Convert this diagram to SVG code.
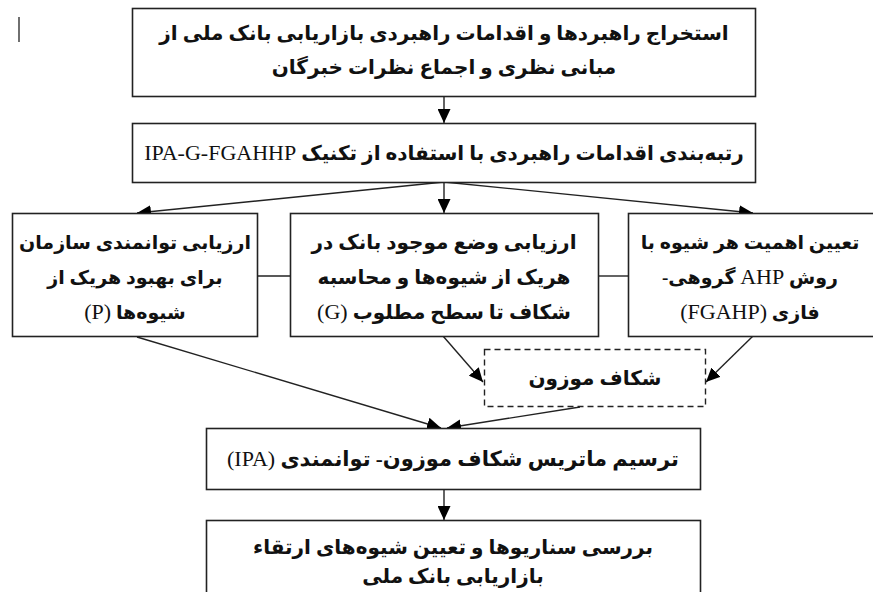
<svg xmlns="http://www.w3.org/2000/svg" width="873" height="592" viewBox="0 0 873 592">
<defs>
<marker id="ah" markerUnits="userSpaceOnUse" markerWidth="15" markerHeight="13" refX="14" refY="6.5" orient="auto">
<path d="M0,0 L14,6.5 L0,13 Z" fill="#000"/>
</marker>
<style>
.box{fill:#fff;stroke:#222;stroke-width:1.6}
.dash{fill:#fff;stroke:#222;stroke-width:1.4;stroke-dasharray:6,4}
.c{stroke:#222;stroke-width:1.4;fill:none}
.a{stroke:#222;stroke-width:1.4;fill:none;marker-end:url(#ah)}
.t{font-family:'Liberation Serif','DejaVu Sans',serif;font-size:20px;font-weight:bold;text-anchor:middle;direction:rtl;fill:#111}
.s{font-size:19px}
.l{font-weight:normal;font-size:22px}
.big{font-size:21px}
</style>
</defs>
<rect width="873" height="592" fill="#fff"/>
<line x1="19" y1="17" x2="19" y2="42" stroke="#333" stroke-width="1.4"/>
<g id="connectors">
<line class="a" x1="444" y1="97" x2="444" y2="123"/>
<line class="a" x1="444" y1="182" x2="137" y2="213"/>
<line class="a" x1="444" y1="182" x2="444" y2="213"/>
<line class="a" x1="444" y1="182" x2="753" y2="213"/>
<line class="c" x1="257" y1="276" x2="291" y2="276"/>
<line class="c" x1="599" y1="276" x2="629" y2="276"/>
<line class="a" x1="443" y1="336" x2="483" y2="382"/>
<line class="a" x1="753" y1="336" x2="706" y2="382"/>
<line class="a" x1="137" y1="337" x2="441" y2="428"/>
<line class="a" x1="580" y1="407" x2="447" y2="428"/>
<line class="a" x1="444" y1="490" x2="444" y2="520"/>
</g>
<g id="n1">
<rect class="box" x="132.5" y="8.5" width="623" height="88"/>
<text class="t" x="444" y="40">استخراج راهبردها و اقدامات راهبردی بازاریابی بانک ملی از</text>
<text class="t" x="444" y="74">مبانی نظری و اجماع نظرات خبرگان</text>
</g>
<g id="n2">
<rect class="box" x="132.5" y="123.5" width="623" height="59"/>
<text class="t" x="444" y="160">رتبه‌بندی اقدامات راهبردی با استفاده از تکنیک <tspan class="l">IPA-G-FGAHHP</tspan></text>
</g>
<g id="n3">
<rect class="box" x="12.5" y="213.5" width="245" height="123"/>
<text class="t s" x="135" y="249">ارزیابی توانمندی سازمان</text>
<text class="t s" x="135" y="284">برای بهبود هریک از</text>
<text class="t s" x="135" y="319">شیوه‌ها <tspan class="l">(P)</tspan></text>
</g>
<g id="n4">
<rect class="box" x="290.5" y="213.5" width="308" height="123"/>
<text class="t" x="444" y="249">ارزیابی وضع موجود بانک در</text>
<text class="t" x="444" y="284">هریک از شیوه‌ها و محاسبه</text>
<text class="t" x="444" y="319">شکاف تا سطح مطلوب <tspan class="l">(G)</tspan></text>
</g>
<g id="n5">
<rect class="box" x="628.5" y="213.5" width="270" height="123"/>
<text class="t s" x="750" y="249">تعیین اهمیت هر شیوه با</text>
<text class="t s" x="750" y="284">روش <tspan class="l">AHP</tspan> گروهی-</text>
<text class="t s" x="750" y="319">فازی <tspan class="l">(FGAHP)</tspan></text>
</g>
<g id="n6">
<rect class="dash" x="484.5" y="349.5" width="221" height="57"/>
<text class="t" x="595" y="385">شکاف موزون</text>
</g>
<g id="n7">
<rect class="box" x="206.5" y="428.5" width="494" height="61"/>
<text class="t big" x="453" y="466">ترسیم ماتریس شکاف موزون- توانمندی <tspan class="l">(IPA)</tspan></text>
</g>
<g id="n8">
<rect class="box" x="206.5" y="520.5" width="494" height="80"/>
<text class="t" x="453" y="554">بررسی سناریوها و تعیین شیوه‌های ارتقاء</text>
<text class="t" x="453" y="583">بازاریابی بانک ملی</text>
</g>
</svg>
